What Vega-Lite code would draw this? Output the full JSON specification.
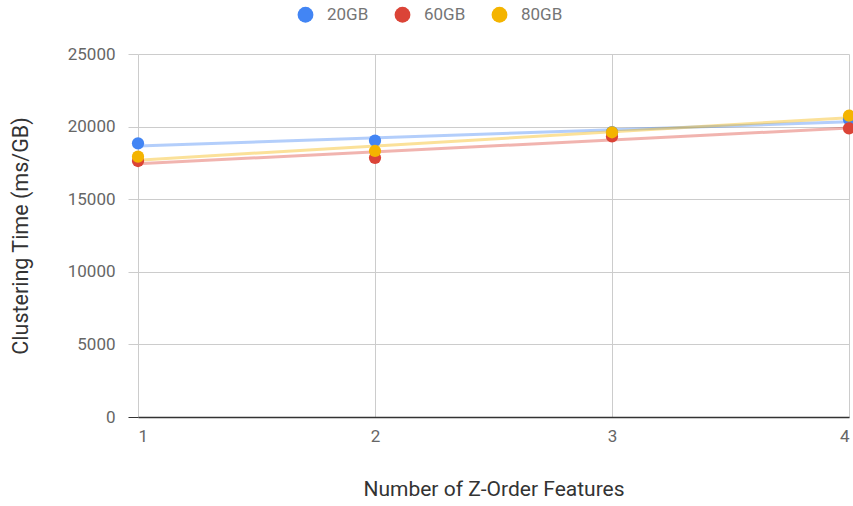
{
  "$schema": "https://vega.github.io/schema/vega-lite/v6.json",
  "autosize": "none",
  "width": 711,
  "height": 363,
  "padding": {"left": 138, "top": 54, "right": 4, "bottom": 89},
  "background": "white",
  "config": {
    "font": "Roboto",
    "view": {"stroke": null}
  },
  "data": {
    "values": [
      {"features": 1, "time": 18850, "size": "20GB"},
      {"features": 2, "time": 19030, "size": "20GB"},
      {"features": 3, "time": 19620, "size": "20GB"},
      {"features": 4, "time": 20500, "size": "20GB"},
      {"features": 1, "time": 17630, "size": "60GB"},
      {"features": 2, "time": 17850, "size": "60GB"},
      {"features": 3, "time": 19320, "size": "60GB"},
      {"features": 4, "time": 19880, "size": "60GB"},
      {"features": 1, "time": 17930, "size": "80GB"},
      {"features": 2, "time": 18320, "size": "80GB"},
      {"features": 3, "time": 19610, "size": "80GB"},
      {"features": 4, "time": 20750, "size": "80GB"}
    ]
  },
  "encoding": {
    "x": {
      "field": "features",
      "type": "quantitative",
      "scale": {"domain": [1, 4], "nice": false, "zero": false},
      "axis": {
        "title": "Number of Z-Order Features",
        "values": [1, 2, 3, 4],
        "format": "d",
        "grid": true,
        "gridColor": "#cccccc",
        "ticks": false,
        "domain": true,
        "domainColor": "#333333",
        "domainWidth": 1.5,
        "labelFontSize": 17,
        "labelColor": "#666666",
        "labelPadding": 11,
        "titleFontSize": 21,
        "titleFontWeight": "normal",
        "titleColor": "#333333",
        "titlePadding": 34
      }
    },
    "y": {
      "field": "time",
      "type": "quantitative",
      "scale": {"domain": [0, 25000], "nice": false},
      "axis": {
        "title": "Clustering Time (ms/GB)",
        "values": [0, 5000, 10000, 15000, 20000, 25000],
        "format": "d",
        "grid": true,
        "gridColor": "#cccccc",
        "domain": false,
        "ticks": true,
        "tickSize": 10,
        "tickColor": {"condition": {"test": "datum.value === 0", "value": "#333333"}, "value": "#cccccc"},
        "labelFontSize": 17,
        "labelColor": "#666666",
        "labelPadding": 13,
        "titleFontSize": 21.5,
        "titleFontWeight": "normal",
        "titleColor": "#333333",
        "titlePadding": 35
      }
    },
    "color": {
      "field": "size",
      "type": "nominal",
      "scale": {"domain": ["20GB", "60GB", "80GB"], "range": ["#4285F4", "#DB4437", "#F4B400"]},
      "legend": {
        "title": null,
        "orient": "none",
        "direction": "horizontal",
        "legendX": 159,
        "legendY": -48,
        "symbolType": "circle",
        "symbolSize": 250,
        "symbolOpacity": 1,
        "symbolStrokeWidth": 0,
        "labelFontSize": 17,
        "labelColor": "#757575",
        "labelOffset": 13,
        "columnPadding": 25
      }
    }
  },
  "layer": [
    {
      "transform": [
        {"regression": "time", "on": "features", "groupby": ["size"], "method": "linear"}
      ],
      "mark": {"type": "line", "strokeWidth": 3, "opacity": 0.4}
    },
    {
      "mark": {"type": "circle", "size": 150, "opacity": 1}
    }
  ]
}
